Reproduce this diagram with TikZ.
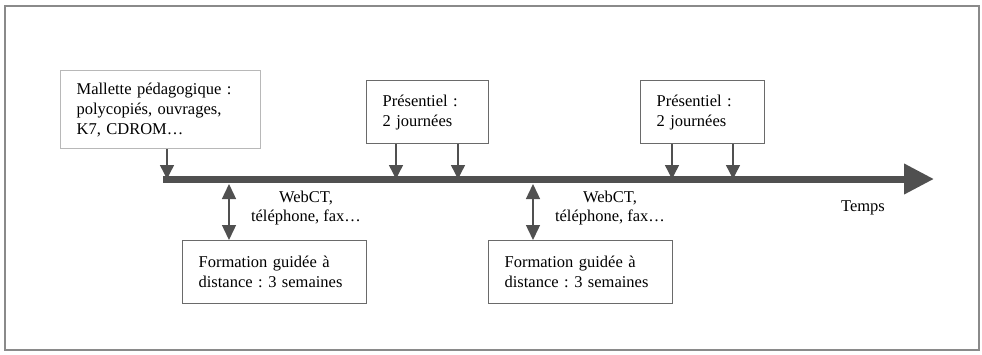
\documentclass[tikz,border=0pt]{standalone}
\usepackage{fontspec}
\setmainfont{Liberation Serif}
\usetikzlibrary{arrows.meta}
\frenchspacing
\definecolor{axisgray}{HTML}{505050}
\definecolor{boxgray}{HTML}{6A6A6A}
\definecolor{lightbox}{HTML}{B8B8B8}
\definecolor{framegray}{HTML}{8A8A8A}
\tikzset{
  textbox/.style={draw=boxgray, line width=1.2pt, anchor=north west, align=left,
    inner xsep=16pt, inner ysep=0pt, font=\fontsize{16.5}{20}\selectfont},
  pin/.style={draw=axisgray, line width=1.4pt, -{Triangle[width=14pt,length=14pt]}, fill=axisgray},
  twoway/.style={draw=axisgray, line width=1.4pt, {Triangle[width=14pt,length=15pt]}-{Triangle[width=14pt,length=15pt]}, fill=axisgray},
  note/.style={font=\fontsize{16.5}{19}\selectfont, align=center}
}
\begin{document}
\begin{tikzpicture}[x=1pt,y=-1pt]
\useasboundingbox (0,0) rectangle (982,354);
\fill[white] (0,0) rectangle (982,354);
\draw[draw=framegray, line width=1.2pt] (5,6) rectangle (979,350);

% time axis
\coordinate (t0) at (163,179);
\coordinate (t1) at (934,179);
\draw[axisgray, line width=7pt, -{Triangle[width=29pt,length=30pt]}, fill=axisgray] (t0) -- (t1);
\node[font=\fontsize{16.5}{19}\selectfont] (temps) at (863,208) {Temps};

% boxes above the axis
\node[textbox, draw=lightbox, minimum width=200pt, minimum height=78pt, text width=168pt] (mallette) at (60,70)
  {Mallette pédagogique :\\polycopiés, ouvrages,\\K7, CDROM\ldots};
\node[textbox, minimum width=122pt, minimum height=63pt, text width=90pt] (pres1) at (366,80)
  {Présentiel :\\2 journées};
\node[textbox, minimum width=124pt, minimum height=63pt, text width=92pt] (pres2) at (640,80)
  {Présentiel :\\2 journées};

% boxes below the axis
\node[textbox, minimum width=184pt, minimum height=63pt, text width=152pt] (form1) at (182,240)
  {Formation guidée à\\distance : 3 semaines};
\node[textbox, minimum width=184pt, minimum height=63pt, text width=152pt] (form2) at (488,240)
  {Formation guidée à\\distance : 3 semaines};

% arrows onto the axis
\coordinate (m1) at (167,179);
\coordinate (p1a) at (396,179);
\coordinate (p1b) at (458,179);
\coordinate (p2a) at (672,179);
\coordinate (p2b) at (733,179);
\draw[pin] (mallette.south west -| m1) -- (m1);
\draw[pin] (pres1.south west -| p1a) -- (p1a);
\draw[pin] (pres1.south west -| p1b) -- (p1b);
\draw[pin] (pres2.south west -| p2a) -- (p2a);
\draw[pin] (pres2.south west -| p2b) -- (p2b);

% links between the axis and the distance-learning boxes
\coordinate (d1) at (229,184);
\coordinate (d2) at (533,184);
\draw[twoway] (d1) -- (form1.north west -| d1);
\draw[twoway] (d2) -- (form2.north west -| d2);

% communication means
\node[note] (comm1) at (306,208) {WebCT,\\téléphone, fax\ldots};
\node[note] (comm2) at (610,208) {WebCT,\\téléphone, fax\ldots};
\end{tikzpicture}
\end{document}
